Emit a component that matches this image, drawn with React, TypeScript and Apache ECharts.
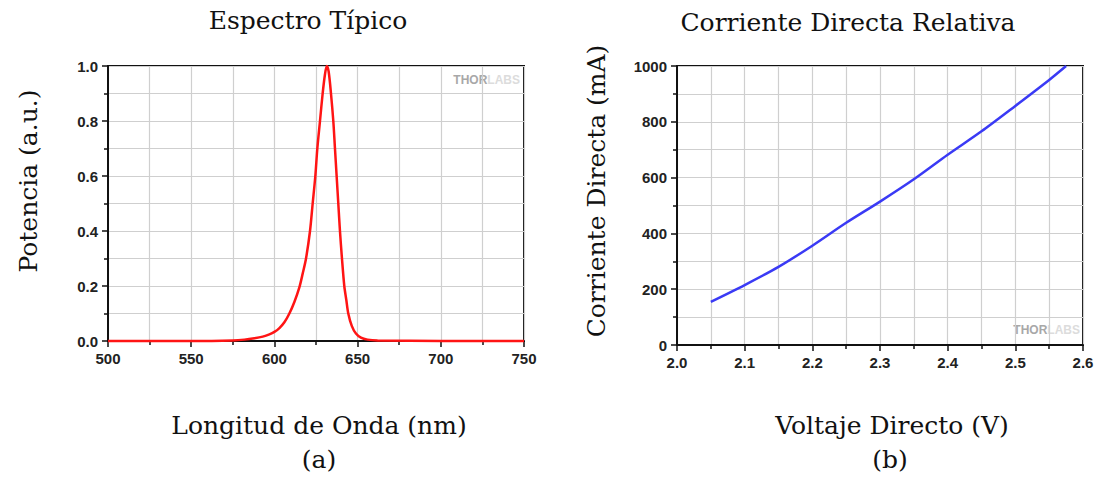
import React, { useEffect, useRef } from "react";
import * as echarts from "echarts";

const wavelength = [500, 550, 575, 582, 588, 593, 597, 600, 603, 606, 609, 612, 615, 617, 619, 621.4, 623, 624.6, 625.8, 627.4, 629, 630.4, 631.5, 632.6, 634, 635.4, 636.4, 637.4, 638.4, 639.4, 640.6, 642, 643.2, 644.4, 646.5, 649, 652, 656, 662, 700, 750];
const power = [0, 0, 0.002, 0.005, 0.01, 0.016, 0.024, 0.033, 0.047, 0.068, 0.1, 0.142, 0.195, 0.245, 0.3, 0.4, 0.5, 0.6, 0.7, 0.8, 0.9, 0.97, 1.0, 0.98, 0.9, 0.8, 0.7, 0.6, 0.5, 0.4, 0.3, 0.2, 0.15, 0.1, 0.055, 0.027, 0.012, 0.005, 0.002, 0, 0];

const voltage = [2.05, 2.1, 2.15, 2.2, 2.25, 2.3, 2.35, 2.4, 2.45, 2.5, 2.55, 2.575];
const current = [155, 215, 280, 356, 438, 514, 594, 682, 766, 857, 950, 1000];

const titleA = "Espectro Típico";
const titleB = "Corriente Directa Relativa";
const xNameA = "Longitud de Onda (nm)";
const yNameA = "Potencia (a.u.)";
const xNameB = "Voltaje Directo (V)";
const yNameB = "Corriente Directa (mA)";

const SERIF = "'DejaVu Serif', serif";
const SANS = "'Liberation Sans', Arial, sans-serif";
const TFONT = `25px ${SERIF}`;

function axisCommon(fmt: (v: number) => string) {
  return {
    axisLine: { show: true, onZero: false, lineStyle: { color: "#111", width: 2 } },
    axisTick: { show: true, inside: false, length: 6, lineStyle: { color: "#111", width: 1.5 } },
    minorTick: { show: true, splitNumber: 2, length: 4, lineStyle: { color: "#111", width: 1.5 } },
    splitLine: { show: true, lineStyle: { color: "#cfcfcf", width: 1.2 } },
    minorSplitLine: { show: true, lineStyle: { color: "#cfcfcf", width: 1.2 } },
    axisLabel: {
      formatter: fmt,
      fontFamily: SANS,
      fontWeight: "bold",
      fontSize: 15,
      color: "#222",
      margin: 10,
    },
  };
}

function label(text: string, x: number, y: number, rot = 0) {
  return {
    type: "text", x, y, rotation: rot,
    style: { text, font: TFONT, fill: "#111", align: "center", verticalAlign: "middle" },
  };
}

function watermark(x: number, y: number) {
  return {
    type: "text", x, y,
    style: {
      text: "{a|THOR}{b|LABS}", align: "right", verticalAlign: "middle",
      rich: {
        a: { fontFamily: SANS, fontWeight: "bold", fontSize: 12, fill: "#a8a8a8" },
        b: { fontFamily: SANS, fontWeight: "bold", fontSize: 12, fill: "#dcdcdc" },
      },
    },
  };
}

export default function App() {
  const ref = useRef<HTMLDivElement>(null);
  useEffect(() => {
    if (!ref.current) return;
    const chart = echarts.init(ref.current, undefined, { renderer: "svg" });
    const specData = wavelength.map((w, i) => [w, power[i]]);
    const ivData = voltage.map((v, i) => [v, current[i]]);
    chart.setOption({
      animation: false,
      backgroundColor: "#ffffff",
      grid: [
        { left: 108, top: 66, width: 416, height: 275, show: true, borderColor: "#111", borderWidth: 2, backgroundColor: "transparent" },
        { left: 677, top: 66, width: 406, height: 279, show: true, borderColor: "#111", borderWidth: 2, backgroundColor: "transparent" },
      ],
      xAxis: [
        { type: "value", gridIndex: 0, min: 500, max: 750, interval: 50, ...axisCommon((v: number) => String(v)) },
        { type: "value", gridIndex: 1, min: 2.0, max: 2.6, interval: 0.1, ...axisCommon((v: number) => v.toFixed(1)) },
      ],
      yAxis: [
        { type: "value", gridIndex: 0, min: 0, max: 1, interval: 0.2, ...axisCommon((v: number) => v.toFixed(1)) },
        { type: "value", gridIndex: 1, min: 0, max: 1000, interval: 200, ...axisCommon((v: number) => String(v)) },
      ],
      series: [
        {
          type: "line", xAxisIndex: 0, yAxisIndex: 0, data: specData, showSymbol: false, smooth: 0.3,
          lineStyle: { color: "#ff1414", width: 2.5 }, clip: false,
        },
        {
          type: "line", xAxisIndex: 1, yAxisIndex: 1, data: ivData, showSymbol: false, smooth: 0.3,
          lineStyle: { color: "#3a3af5", width: 2.5 }, clip: false,
        },
      ],
      graphic: [
        label(titleA, 308, 20),
        label(titleB, 848, 22),
        label(xNameA, 319, 425),
        label("(a)", 319, 459),
        label(xNameB, 892, 425),
        label("(b)", 890, 459),
        label(yNameA, 28, 181, Math.PI / 2),
        label(yNameB, 596, 191, Math.PI / 2),
        watermark(520, 80),
        watermark(1080, 330),
      ],
    });
    return () => chart.dispose();
  }, []);
  return <div ref={ref} style={{ position: "fixed", left: 0, top: 0, width: 1100, height: 484 }} />;
}
